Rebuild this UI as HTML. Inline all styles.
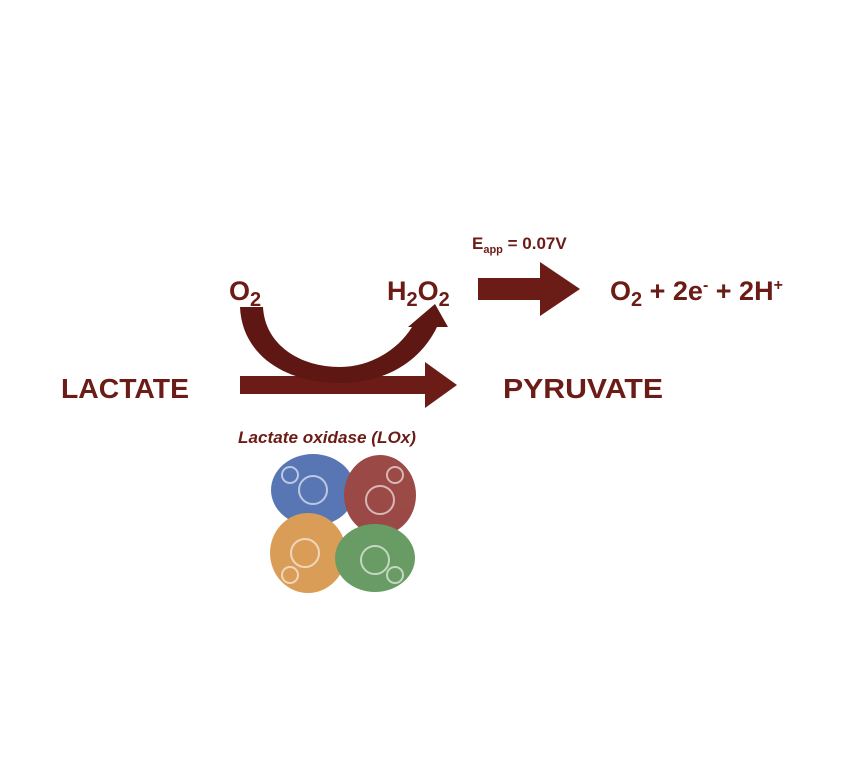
<!DOCTYPE html>
<html><head><meta charset="utf-8"><style>
html,body{margin:0;padding:0;background:#fff;}
svg{display:block;}
text{font-family:"Liberation Sans",sans-serif;font-weight:bold;fill:#6b1c16;}
</style></head><body>
<svg width="852" height="780" viewBox="0 0 852 780" xmlns="http://www.w3.org/2000/svg">
<!-- labels -->
<text x="61" y="398" font-size="28" textLength="128" lengthAdjust="spacingAndGlyphs">LACTATE</text>
<text x="503" y="398" font-size="28" textLength="160" lengthAdjust="spacingAndGlyphs">PYRUVATE</text>
<text x="229" y="300" font-size="27">O<tspan font-size="20" dy="6">2</tspan></text>
<text x="387" y="300" font-size="27">H<tspan font-size="20" dy="6">2</tspan><tspan dy="-6">O</tspan><tspan font-size="20" dy="6">2</tspan></text>
<text x="472" y="249" font-size="17">E<tspan font-size="11" dy="4">app</tspan><tspan dy="-4"> = 0.07V</tspan></text>
<text x="610" y="300" font-size="27">O<tspan font-size="20" dy="6">2</tspan><tspan dy="-6"> + 2e</tspan><tspan font-size="16" dy="-10">-</tspan><tspan dy="10"> + 2H</tspan><tspan font-size="16" dy="-10">+</tspan></text>
<text x="238" y="443" font-size="17" font-style="italic" textLength="178" lengthAdjust="spacingAndGlyphs">Lactate oxidase (LOx)</text>
<!-- straight arrow -->
<polygon points="240,376 425,376 425,362 457,385 425,408 425,394 240,394" fill="#6b1c16"/>
<!-- big arrow -->
<polygon points="478,278 540,278 540,262 580,289 540,316 540,300 478,300" fill="#6b1c16"/>
<!-- curved arrow -->
<path d="M240,307 L263,307 C265,345 300,367 340,367 C370,367 398,350 412,327 L408,327 L435,304 L448,327 L437,327 C420,362 385,383 340,383 C285,383 242,355 240,307 Z" fill="#5e1712"/>
<!-- protein -->
<g opacity="0.85">
<ellipse cx="313" cy="490" rx="42" ry="36" fill="#3d5fa8"/>
<ellipse cx="380" cy="495" rx="36" ry="40" fill="#8a2a26"/>
<ellipse cx="308" cy="553" rx="38" ry="40" fill="#d48c3a"/>
<ellipse cx="375" cy="558" rx="40" ry="34" fill="#4f8a4a"/>
</g>
<g fill="none" stroke="#fff" stroke-width="2" opacity="0.6">
<circle cx="313" cy="490" r="14"/><circle cx="380" cy="500" r="14"/><circle cx="305" cy="553" r="14"/><circle cx="375" cy="560" r="14"/>
<circle cx="290" cy="475" r="8"/><circle cx="395" cy="475" r="8"/><circle cx="290" cy="575" r="8"/><circle cx="395" cy="575" r="8"/>
</g>
</svg>
</body></html>
